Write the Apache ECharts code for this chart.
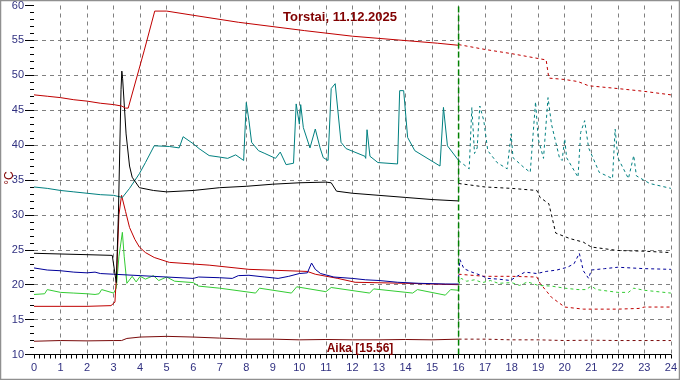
<!DOCTYPE html>
<html>
<head>
<meta charset="utf-8">
<script src="https://cdn.jsdelivr.net/npm/echarts@6/dist/echarts.min.js"></script>
<style>
html,body{margin:0;padding:0;background:#fff;}
#c{width:680px;height:380px;}
</style>
</head>
<body>
<div id="c"></div>
<script>
// ---- data: [hour, °C] ----
var titleText = "Torstai, 11.12.2025";
var timeText = "Aika [15.56]";
var nowHour = 16;
var xTicks = [0,1,2,3,4,5,6,7,8,9,10,11,12,13,14,15,16,17,18,19,20,21,22,23,24];
var yTicks = [10,15,20,25,30,35,40,45,50,55,60];

var redTop = [[0,47.2],[0.5,47.0],[1,46.8],[1.5,46.5],[2,46.3],[2.5,46.0],[3,45.8],[3.3,45.6],[3.45,45.3],[3.55,45.3],[4.15,53.5],[4.55,59.2],[5.0,59.2],[6,58.6],[7.7,57.6],[10.2,56.4],[12,55.6],[15.2,54.6],[16,54.3]];
var redTopPrev = [[16,54.4],[17,53.7],[18,53.1],[19.3,52.2],[19.4,49.6],[20,49.4],[20.5,49.1],[20.9,48.5],[22,48.1],[23,47.7],[24,47.2]];

var black = [[0,24.5],[1,24.4],[2,24.3],[2.95,24.2],[3.02,24.1],[3.1,20.3],[3.18,30],[3.28,48],[3.31,50.6],[3.34,49.5],[3.47,41.6],[3.6,37],[3.7,35.4],[3.97,33.9],[4.5,33.5],[5,33.3],[6,33.5],[7,33.9],[8,34.1],[9,34.4],[10,34.6],[11,34.7],[11.2,34.6],[11.4,33.4],[12,33.1],[13,32.8],[14,32.5],[15,32.2],[16,32.0]];
var blackPrev = [[16,34.5],[17,34.0],[18,33.8],[18.95,33.5],[19.07,32.5],[19.4,31.6],[19.5,30.0],[19.66,27.4],[20.2,26.6],[20.7,26.1],[21,25.4],[22,24.9],[23,24.8],[24,24.6]];

var teal = [[0,34.0],[0.5,33.8],[1,33.5],[1.5,33.3],[2,33.1],[2.5,32.9],[3,32.8],[3.33,32.5],[3.6,33.8],[3.97,35.9],[4.2,37.5],[4.53,39.9],[5.1,39.8],[5.47,39.6],[5.62,41.2],[6.0,40.2],[6.22,39.5],[6.6,38.5],[6.97,38.3],[7.3,38.1],[7.6,38.6],[7.9,37.8],[8.0,46.1],[8.1,43.5],[8.2,40.4],[8.46,39.2],[8.7,38.8],[9.1,38.1],[9.28,39.0],[9.5,37.2],[9.78,37.4],[9.88,45.9],[10.0,43],[10.05,45.8],[10.15,42.5],[10.4,39.6],[10.6,42.3],[10.78,39.6],[10.9,38.2],[11.08,37.8],[11.2,48.1],[11.35,48.8],[11.57,40.4],[11.76,39.5],[12.47,38.4],[12.5,38.1],[12.55,42.2],[12.66,38.4],[12.96,37.5],[13.7,37.3],[13.78,47.8],[13.93,47.8],[14.08,41.1],[14.35,39.2],[15.3,37.0],[15.43,45.4],[15.58,39.9],[16,37.8]];
var tealPrev = [[16,37.8],[16.4,36.6],[16.5,45.4],[16.6,38.8],[16.7,39.6],[16.8,45.6],[16.95,43.5],[17.1,39.2],[17.45,37.5],[17.83,36.6],[17.98,41.6],[18.05,38.2],[18.46,36.8],[18.7,36.1],[18.9,46.2],[19.0,40.9],[19.2,38.1],[19.37,46.8],[19.5,43.0],[19.8,38.2],[19.9,37.8],[20.0,40.9],[20.07,38.2],[20.5,35.4],[20.6,41.8],[20.75,43.5],[20.9,39.6],[21.3,36.1],[21.8,35.2],[21.9,42.3],[22.0,38.2],[22.4,35.2],[22.6,38.5],[22.7,35.6],[23.2,34.5],[24,33.8]];

var redLow = [[0,16.9],[1,16.9],[2,16.9],[2.9,17.0],[3.05,17.5],[3.12,22],[3.2,30],[3.3,32.8],[3.45,30.5],[3.6,28.2],[3.8,26.5],[3.97,25.4],[4.2,24.6],[4.53,23.9],[5.1,23.2],[6.6,22.8],[8.1,22.2],[10.3,21.9],[10.6,21.5],[11.45,20.9],[12.1,20.35],[14,20.2],[16,20.0]];
var redLowPrev = [[16,21.5],[17,21.2],[18,21.2],[18.95,21.1],[19.07,20.2],[19.5,18.2],[20,16.8],[20.7,16.5],[22,16.5],[22.8,16.6],[23,16.8],[24,16.8]];

var blue = [[0,22.4],[0.5,22.1],[1,22.0],[1.5,21.8],[2,21.7],[2.3,21.8],[2.5,21.6],[3,21.5],[4,21.3],[5,21.1],[6,20.9],[6.2,21.1],[7,21.0],[7.47,20.9],[7.7,21.3],[8.1,21.35],[8.7,21.1],[9.2,20.9],[9.6,21.2],[10,21.6],[10.3,21.7],[10.46,23.1],[10.6,22.2],[10.8,21.6],[11.3,21.1],[12,20.9],[12.5,20.7],[13,20.6],[13.7,20.35],[14.5,20.2],[15.5,20.1],[16,20.1]];
var bluePrev = [[16,21.0],[16.05,23.6],[16.2,22.3],[16.5,21.8],[16.8,21.4],[17.1,20.9],[17.5,20.8],[17.95,20.6],[18.2,21.2],[18.5,21.8],[18.95,21.6],[19.3,21.9],[19.7,22.1],[20.1,22.5],[20.35,23.0],[20.55,24.5],[20.7,22.0],[20.9,20.9],[21.0,22.1],[21.5,22.3],[22,22.5],[23,22.3],[24,22.2]];

var green = [[0,18.6],[0.4,18.7],[0.5,19.3],[1.0,18.9],[1.5,18.8],[2.0,18.7],[2.3,18.6],[2.45,18.7],[2.55,19.3],[3.0,18.8],[3.1,19.5],[3.2,24],[3.33,27.5],[3.4,24.0],[3.5,20.2],[3.7,21.2],[3.85,20.4],[4.0,21.2],[4.2,20.8],[4.5,21.3],[4.7,20.6],[5.0,21.1],[5.3,20.5],[6,20.3],[6.2,19.8],[7,19.5],[8.35,18.8],[8.5,19.5],[9.7,18.8],[9.9,19.7],[11.0,19.0],[11.2,19.6],[12.65,18.8],[12.8,19.4],[14.27,18.8],[14.45,19.3],[15.5,18.5],[15.7,19.3],[16,19.2]];
var greenPrev = [[16,20.0],[16.1,20.9],[16.3,20.5],[16.6,20.7],[16.9,20.3],[17.2,20.6],[17.5,20.2],[18,20.3],[18.3,19.9],[18.6,20.4],[19,19.9],[19.5,19.8],[20,19.5],[20.5,19.3],[20.8,19.3],[21.0,19.8],[21.2,19.3],[22,18.9],[22.4,18.9],[22.6,19.5],[23,19.2],[24,18.8]];

var maroon = [[0,11.9],[1,12.0],[2,11.95],[3,12.0],[3.3,12.0],[3.5,12.3],[4.0,12.5],[5,12.6],[6,12.5],[7,12.35],[8,12.2],[9,12.2],[10,12.1],[11,12.15],[12,12.1],[13,12.1],[14,12.15],[15,12.1],[16,12.2]];
var maroonPrev = [[16,12.2],[17,12.2],[18,12.1],[19,12.1],[20,12.0],[21,12.05],[22,12.0],[23,12.0],[24,12.0]];

var nowLine = [[nowHour,10],[nowHour,60]];

// ---- chart ----
var FONT = "'Liberation Sans', Arial, sans-serif";
function ln(data, color, dashed, w) {
  return {
    type: 'line', data: data, symbol: 'none', silent: true,
    lineStyle: { color: color, width: w || 1, type: dashed ? [3, 3] : 'solid' },
    z: 3
  };
}
var chart = echarts.init(document.getElementById('c'), null, { renderer: 'canvas' });
chart.setOption({
  animation: false,
  backgroundColor: '#fff',
  grid: { left: 34, right: 4, top: 4.5, bottom: 25.5, containLabel: false },
  xAxis: {
    type: 'value', min: xTicks[0], max: xTicks[xTicks.length - 1], interval: 1,
    axisLine: { show: true, lineStyle: { color: '#000', width: 1 } },
    axisTick: { show: true, length: 4, lineStyle: { color: '#000' } },
    minorTick: { show: true, splitNumber: 5, length: 4, lineStyle: { color: '#000' } },
    axisLabel: { color: '#303080', fontSize: 11, fontFamily: FONT, margin: 8 },
    splitLine: { show: true, showMinLine: false, lineStyle: { color: '#808080', type: [4, 4], width: 1 } }
  },
  yAxis: {
    type: 'value', min: yTicks[0], max: yTicks[yTicks.length - 1], interval: 5,
    axisLine: { show: false },
    axisTick: { show: true, length: 9, lineStyle: { color: '#000' } },
    minorTick: { show: true, splitNumber: 5, length: 4, lineStyle: { color: '#000' } },
    axisLabel: { color: '#303080', fontSize: 11, fontFamily: FONT, margin: 10 },
    splitLine: { show: true, showMaxLine: false, showMinLine: false, lineStyle: { color: '#808080', type: [4, 4], width: 1 } }
  },
  series: [
    ln(maroon, '#7a0a0a'), ln(maroonPrev, '#7a0a0a', true),
    ln(green, '#33cc33'), ln(greenPrev, '#33cc33', true),
    ln(redLow, '#c00000'), ln(redLowPrev, '#c00000', true),
    ln(blue, '#000099'), ln(bluePrev, '#000099', true),
    ln(teal, '#008080'), ln(tealPrev, '#008080', true),
    ln(black, '#000000'), ln(blackPrev, '#000000', true),
    ln(redTop, '#c00000'), ln(redTopPrev, '#c00000', true),
    {
      type: 'line', data: nowLine, symbol: 'none', silent: true, z: 4,
      lineStyle: { color: '#008000', width: 1.5, type: [6, 3] }
    }
  ],
  graphic: [
    { type: 'rect', shape: { x: 0.5, y: 0.5, width: 679, height: 379 }, style: { fill: null, stroke: '#909090', lineWidth: 1.5 }, silent: true, z: 10 },
    { type: 'text', x: 340, y: 17, style: { text: titleText, fill: '#800000', font: 'bold 13px ' + FONT, align: 'center', verticalAlign: 'middle' }, z: 10 },
    { type: 'text', x: 360, y: 349, style: { text: timeText, fill: '#800000', font: 'bold 12px ' + FONT, align: 'center', verticalAlign: 'middle' }, z: 10 },
    { type: 'text', x: 10, y: 178, rotation: Math.PI / 2, style: { text: '°C', fill: '#800000', font: '12px ' + FONT, align: 'center', verticalAlign: 'middle' }, z: 10 }
  ]
});
</script>
</body>
</html>
